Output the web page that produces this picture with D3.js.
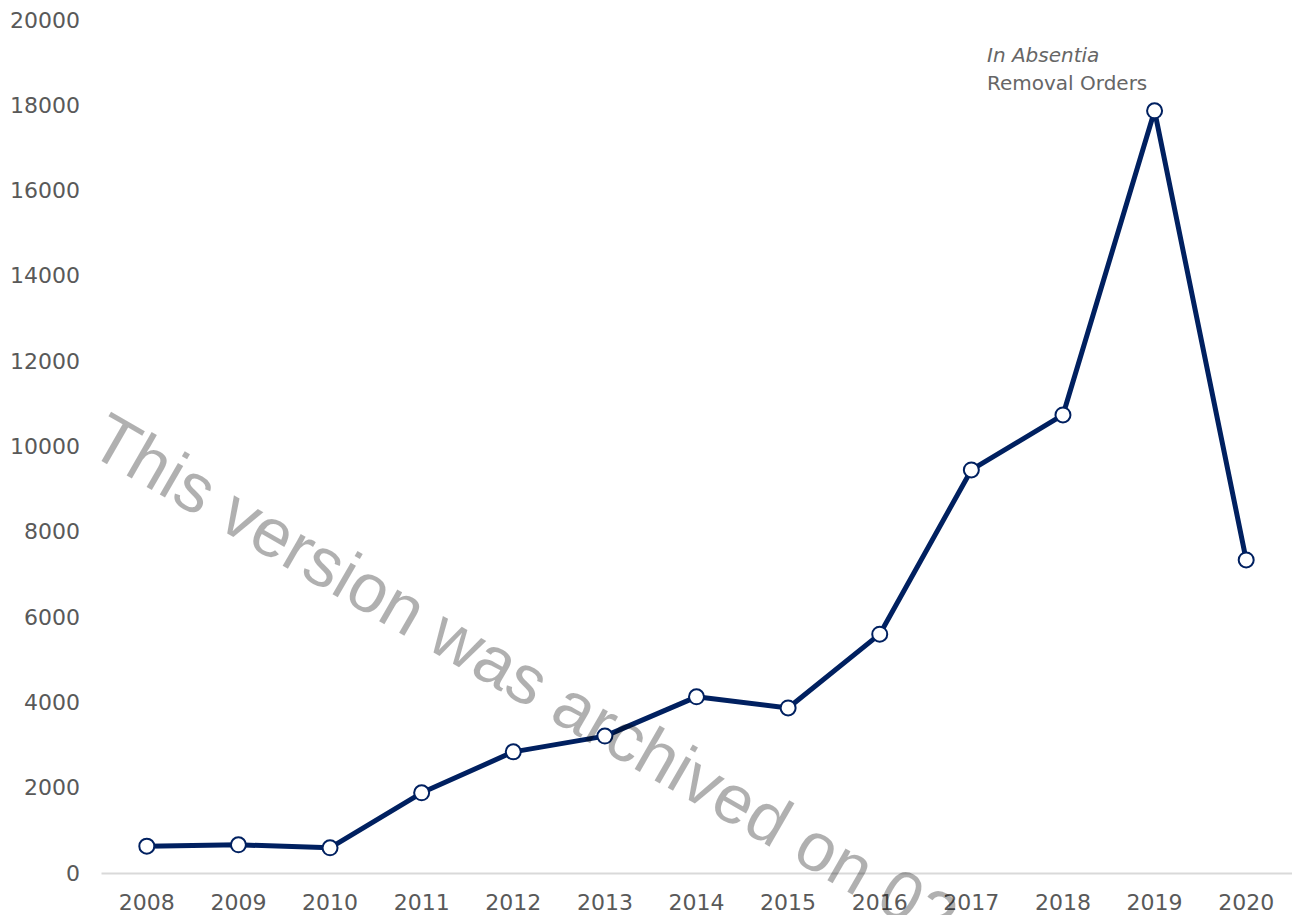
<!DOCTYPE html>
<html>
<head>
<meta charset="utf-8">
<script src="https://cdn.jsdelivr.net/npm/d3@7"></script>
<style>
  body { margin: 0; background: #fff; }
  text { font-family: "DejaVu Sans", sans-serif; }
</style>
</head>
<body>
<div id="chart"></div>
<script>
// in absentia removal orders per year
const years = [2008, 2009, 2010, 2011, 2012, 2013, 2014, 2015, 2016, 2017, 2018, 2019, 2020];
const orders = [630, 660, 590, 1880, 2840, 3210, 4130, 3870, 5600, 9450, 10740, 17870, 7340];
const yTicks = [0, 2000, 4000, 6000, 8000, 10000, 12000, 14000, 16000, 18000, 20000];

const W = 1292, H = 915;
const margin = { top: 20, right: 0, bottom: 42, left: 101 };
const width = W - margin.left - margin.right;
const height = H - margin.top - margin.bottom;

const svg = d3.select("#chart")
  .append("svg")
  .attr("width", W)
  .attr("height", H);

const g = svg.append("g")
  .attr("transform", `translate(${margin.left},${margin.top})`);

const x = d3.scaleBand()
  .domain(years)
  .range([0, width]);

const y = d3.scaleLinear()
  .domain([0, 20000])
  .range([height, 0]);

// y labels, no axis line
g.append("g")
  .call(d3.axisLeft(y).tickValues(yTicks).tickFormat(d3.format("d")).tickSize(0).tickPadding(21))
  .call(a => a.select(".domain").remove())
  .selectAll("text")
  .attr("fill", "#595959")
  .style("font-size", "22px");

// x axis with light baseline
const xa = g.append("g")
  .attr("transform", `translate(0,${height})`)
  .call(d3.axisBottom(x).tickSize(0).tickPadding(21));
xa.select(".domain").attr("stroke", "#d9d9d9").attr("stroke-width", 2);
xa.selectAll("text")
  .attr("fill", "#595959")
  .style("font-size", "22px");

const cx = d => x(d) + x.bandwidth() / 2;
const pts = years.map((yr, i) => ({ year: yr, value: orders[i] }));

g.append("path")
  .datum(pts)
  .attr("fill", "none")
  .attr("stroke", "#002060")
  .attr("stroke-width", 5)
  .attr("stroke-linejoin", "round")
  .attr("d", d3.line().x(d => cx(d.year)).y(d => y(d.value)));

g.selectAll(".dot")
  .data(pts)
  .enter()
  .append("circle")
  .attr("cx", d => cx(d.year))
  .attr("cy", d => y(d.value))
  .attr("r", 7.5)
  .attr("fill", "#fff")
  .attr("stroke", "#002060")
  .attr("stroke-width", 2);

// series label
const lbl = svg.append("text")
  .attr("x", 987)
  .attr("y", 62)
  .attr("fill", "#666")
  .style("font-size", "20px");
lbl.append("tspan").attr("font-style", "italic").text("In Absentia");
lbl.append("tspan").attr("x", 987).attr("dy", 28).text("Removal Orders");

// archive watermark
svg.append("text")
  .attr("transform", "translate(86,452) rotate(30)")
  .attr("fill", "#000")
  .attr("fill-opacity", 0.31)
  .style("font-family", "'Liberation Sans', Arial, sans-serif")
  .style("font-size", "69px")
  .text("This version was archived on 02");
</script>
</body>
</html>
